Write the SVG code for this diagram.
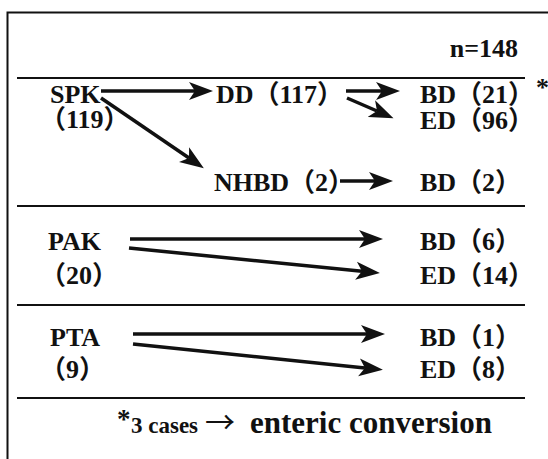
<svg xmlns="http://www.w3.org/2000/svg" width="548" height="459" viewBox="0 0 548 459">
<style>
text{font-family:"Liberation Serif","Noto Sans CJK JP",serif;font-weight:bold;fill:#111;font-size:26px}
.sep{stroke:#111;stroke-width:2}
.arr{stroke:#111;stroke-width:3.5;fill:none;marker-end:url(#ah)}
</style>
<defs>
<marker id="ah" markerUnits="userSpaceOnUse" viewBox="0 -10 26 20" markerWidth="26" markerHeight="20" refX="6" refY="0" orient="auto">
<path d="M0,-9 L24,0 L0,9 L6,0 Z" fill="#111"/>
</marker>
</defs>
<rect x="0" y="0" width="548" height="459" fill="#fff"/>
<path d="M7.5,470 V12.5 H560" fill="none" stroke="#111" stroke-width="2"/>
<g id="frame">
<line class="sep" x1="17" y1="78" x2="525" y2="78"/>
<line class="sep" x1="17" y1="206" x2="525" y2="206"/>
<line class="sep" x1="17" y1="305" x2="525" y2="305"/>
<line class="sep" x1="17" y1="398" x2="525" y2="398"/>
</g>
<g id="n"><text x="518" y="57" text-anchor="end">n=148</text></g>
<g id="spk"><text x="50" y="103">SPK</text><text x="40" y="128">（119）</text></g>
<g id="dd"><text x="216" y="103">DD（117）</text></g>
<g id="nhbd"><text x="214" y="191">NHBD（2）</text></g>
<g id="bd21"><text x="420" y="103">BD（21）</text><text x="536" y="96" font-size="18">*</text></g>
<g id="ed96"><text x="420" y="129">ED（96）</text></g>
<g id="bd2"><text x="420" y="191">BD（2）</text></g>
<g id="pak"><text x="48" y="250">PAK</text><text x="40" y="284">（20）</text></g>
<g id="bd6"><text x="420" y="250">BD（6）</text></g>
<g id="ed14"><text x="420" y="284">ED（14）</text></g>
<g id="pta"><text x="50" y="346">PTA</text><text x="40" y="378">（9）</text></g>
<g id="bd1"><text x="420" y="346">BD（1）</text></g>
<g id="ed8"><text x="420" y="378">ED（8）</text></g>
<g id="note"><text y="433"><tspan x="117" font-size="27" dy="-5">*</tspan><tspan x="131" font-size="23" dy="5">3 cases</tspan><tspan x="205" font-size="30" font-family="Noto Sans CJK JP" font-weight="normal">→</tspan><tspan x="250" font-size="31">enteric conversion</tspan></text></g>
<g id="connectors">
<line class="arr" x1="101" y1="91" x2="195" y2="91"/>
<line class="arr" x1="101" y1="98" x2="189" y2="158"/>
<line class="arr" x1="346" y1="91" x2="382" y2="91"/>
<line class="arr" x1="347" y1="98" x2="377" y2="111"/>
<line class="arr" x1="340" y1="181" x2="375" y2="181"/>
<line class="arr" x1="130" y1="239" x2="365" y2="239"/>
<line class="arr" x1="129" y1="248" x2="362" y2="271.3"/>
<line class="arr" x1="133" y1="334" x2="367" y2="334"/>
<line class="arr" x1="133" y1="344" x2="365" y2="368"/>
</g>
</svg>
